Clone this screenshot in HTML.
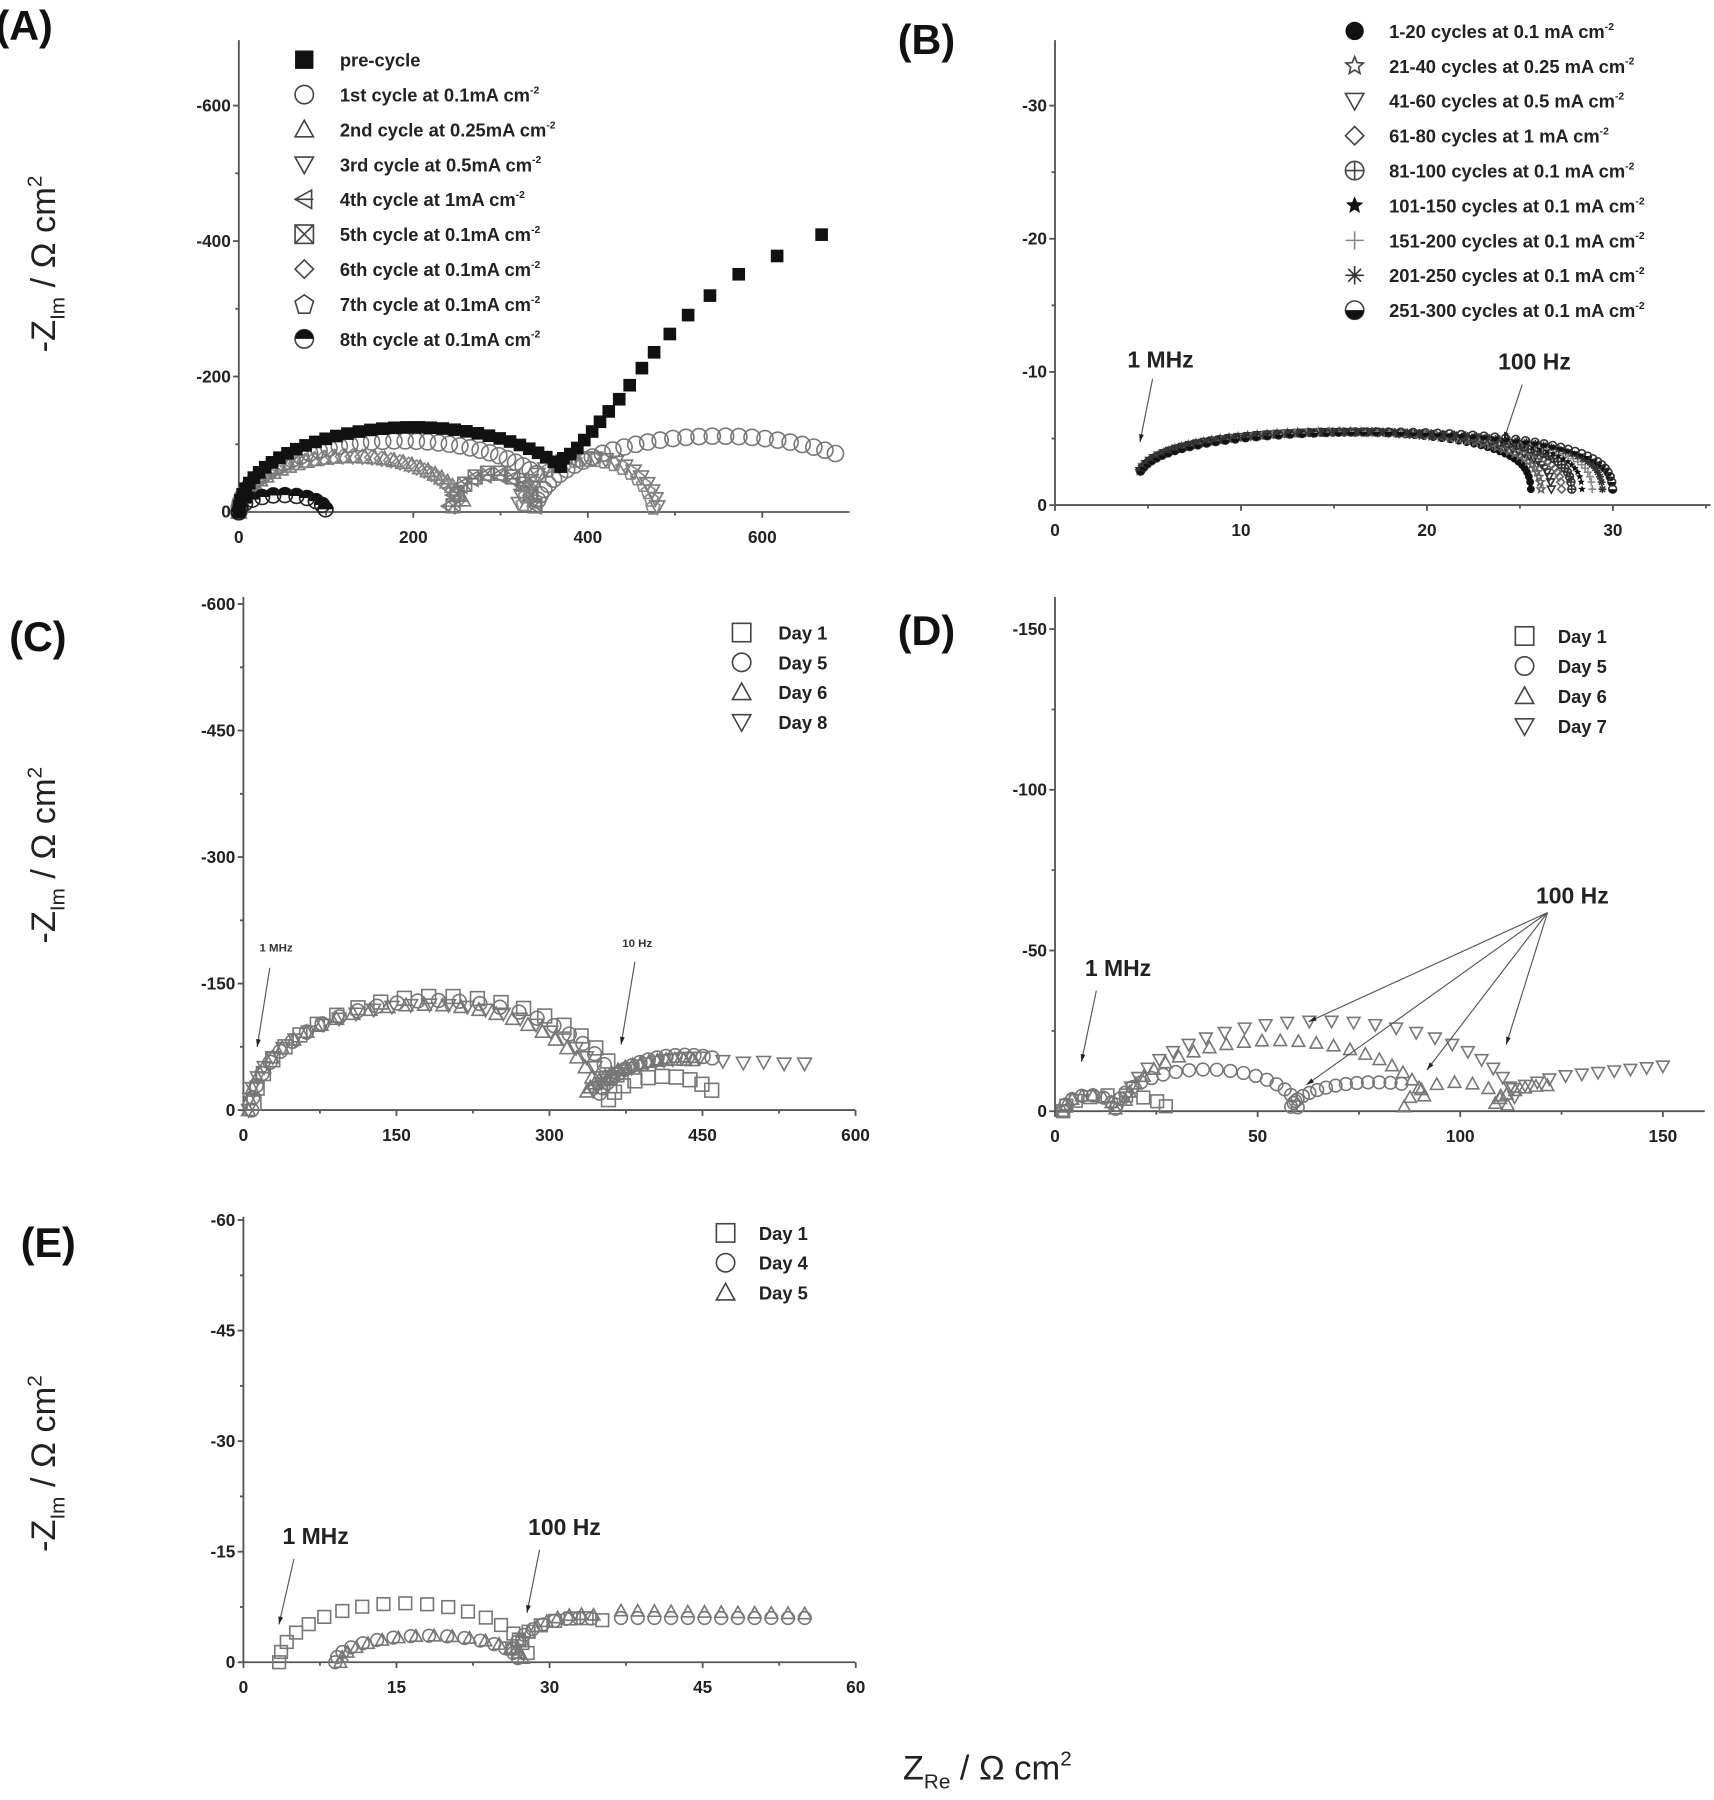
<!DOCTYPE html>
<html><head><meta charset="utf-8"><style>
html,body{margin:0;padding:0;background:#fff}
svg{display:block}
text{font-family:"Liberation Sans",sans-serif}
.t{font-size:15px;font-weight:bold;fill:#222}
.lg{font-size:16px;font-weight:bold;fill:#222}
.pl{font-size:36px;font-weight:bold;fill:#111}
.an{font-size:20px;font-weight:bold;fill:#222}
.yl{font-size:30px;fill:#222}
</style></head><body>
<svg id="s" width="1714" height="1800" viewBox="0 0 1493 1568" xmlns="http://www.w3.org/2000/svg"></svg>
<script>
var S=document.getElementById('s'),H='';
function mk(type,x,y,r,c){c=c||'#444';var s='stroke="'+c+'" stroke-width="1.4" fill="none"';
switch(type){
case 'sqf':return '<rect x="'+(x-r)+'" y="'+(y-r)+'" width="'+2*r+'" height="'+2*r+'" fill="#111"/>';
case 'sq':return '<rect x="'+(x-r)+'" y="'+(y-r)+'" width="'+2*r+'" height="'+2*r+'" '+s+'/>';
case 'ci':return '<circle cx="'+x+'" cy="'+y+'" r="'+r+'" '+s+'/>';
case 'cif':return '<circle cx="'+x+'" cy="'+y+'" r="'+r+'" fill="#111"/>';
case 'tu':return '<polygon points="'+x+','+(y-r)+' '+(x+r)+','+(y+r*0.8)+' '+(x-r)+','+(y+r*0.8)+'" '+s+'/>';
case 'td':return '<polygon points="'+x+','+(y+r)+' '+(x+r)+','+(y-r*0.8)+' '+(x-r)+','+(y-r*0.8)+'" '+s+'/>';
case 'di':return '<polygon points="'+x+','+(y-r)+' '+(x+r)+','+y+' '+x+','+(y+r)+' '+(x-r)+','+y+'" '+s+'/>';
case 'tl':return '<polygon points="'+(x-r)+','+y+' '+(x+r*0.8)+','+(y-r)+' '+(x+r*0.8)+','+(y+r)+'" '+s+'/><line x1="'+(x-r)+'" y1="'+y+'" x2="'+(x+r)+'" y2="'+y+'" '+s+'/>';
case 'xx':return '<rect x="'+(x-r)+'" y="'+(y-r)+'" width="'+2*r+'" height="'+2*r+'" '+s+'/><path d="M'+(x-r)+' '+(y-r)+'L'+(x+r)+' '+(y+r)+'M'+(x+r)+' '+(y-r)+'L'+(x-r)+' '+(y+r)+'" '+s+'/>';
case 'hf':return '<circle cx="'+x+'" cy="'+y+'" r="'+r+'" '+s+'/><path d="M'+(x-r)+' '+y+'A'+r+' '+r+' 0 0 1 '+(x+r)+' '+y+'Z" fill="#111"/>';
case 'pe':return '<polygon points="'+x+','+(y-r)+' '+(x+r)+','+(y-r*0.3)+' '+(x+r*0.6)+','+(y+r)+' '+(x-r*0.6)+','+(y+r)+' '+(x-r)+','+(y-r*0.3)+'" '+s+'/>';
case 'cp':return '<circle cx="'+x+'" cy="'+y+'" r="'+r+'" '+s+'/><path d="M'+(x-r)+' '+y+'H'+(x+r)+'M'+x+' '+(y-r)+'V'+(y+r)+'" '+s+'/>';
case 'stf':case 'st':var p=[];for(var i=0;i<10;i++){var a=-Math.PI/2+i*Math.PI/5,rr=i%2?r*0.45:r;p.push((x+rr*Math.cos(a)).toFixed(1)+','+(y+rr*Math.sin(a)).toFixed(1));}
 return type=='stf'?'<polygon points="'+p.join(' ')+'" fill="#111"/>':'<polygon points="'+p.join(' ')+'" '+s+'/>';
case 'pl':return '<path d="M'+(x-r)+' '+y+'H'+(x+r)+'M'+x+' '+(y-r)+'V'+(y+r)+'" stroke="#888" stroke-width="1.4"/>';
case 'as':return '<path d="M'+(x-r)+' '+y+'H'+(x+r)+'M'+x+' '+(y-r)+'V'+(y+r)+'M'+(x-r*.7)+' '+(y-r*.7)+'L'+(x+r*.7)+' '+(y+r*.7)+'M'+(x+r*.7)+' '+(y-r*.7)+'L'+(x-r*.7)+' '+(y+r*.7)+'" stroke="#333" stroke-width="1.4"/>';
case 'bo':return '<circle cx="'+x+'" cy="'+y+'" r="'+r+'" '+s+'/><path d="M'+(x-r)+' '+y+'A'+r+' '+r+' 0 0 0 '+(x+r)+' '+y+'Z" fill="#111"/>';
}}
function axis(P){
 var o='<g stroke="#555" stroke-width="1.6"><line x1="'+P.x0+'" y1="'+P.top+'" x2="'+P.x0+'" y2="'+(P.y0+1)+'"/><line x1="'+P.x0+'" y1="'+P.y0+'" x2="'+P.right+'" y2="'+P.y0+'"/>';
 P.xt.forEach(function(v){var X=P.x0+v*P.sx;o+='<line x1="'+X+'" y1="'+P.y0+'" x2="'+X+'" y2="'+(P.y0+5)+'"/>';var X2=X+P.xs*P.sx/2;if(X2<P.right)o+='<line x1="'+X2+'" y1="'+P.y0+'" x2="'+X2+'" y2="'+(P.y0+3)+'"/>';});
 P.yt.forEach(function(v){var Y=P.y0-v*P.sy;o+='<line x1="'+P.x0+'" y1="'+Y+'" x2="'+(P.x0-5)+'" y2="'+Y+'"/>';var Y2=Y-P.ys*P.sy/2;if(Y2>P.top)o+='<line x1="'+P.x0+'" y1="'+Y2+'" x2="'+(P.x0-3)+'" y2="'+Y2+'"/>';});
 o+='</g>';
 P.xt.forEach(function(v){o+='<text class="t" x="'+(P.x0+v*P.sx)+'" y="'+(P.y0+27)+'" text-anchor="middle">'+v+'</text>';});
 P.yt.forEach(function(v){o+='<text class="t" x="'+(P.x0-7)+'" y="'+(P.y0-v*P.sy+5)+'" text-anchor="end">'+(v?'-'+v:'0')+'</text>';});
 H+=o;
}
function arc(a,b,h,n,t0,t1,p){t0=t0||0;t1=t1==null?1:t1;p=p||1;var r=[];for(var i=0;i<n;i++){var t=t0+(t1-t0)*i/(n-1);var th=Math.PI*(1-t);var c=Math.cos(th),s=Math.sin(th);r.push([(a+b)/2+(b-a)/2*c,h*Math.pow(s,p)]);}return r;}
function plot(P,pts,type,r,c){pts.forEach(function(q){H+=mk(type,P.x0+q[0]*P.sx,P.y0-q[1]*P.sy,r,c);});}
function seg(a,b,n){var r=[];for(var i=0;i<n;i++){var t=i/(n-1);r.push([a[0]+(b[0]-a[0])*t,a[1]+(b[1]-a[1])*t]);}return r;}
function arrow(x1,y1,x2,y2){var a=Math.atan2(y2-y1,x2-x1),L=7;H+='<line x1="'+x1+'" y1="'+y1+'" x2="'+x2+'" y2="'+y2+'" stroke="#555" stroke-width="1"/><polygon points="'+x2+','+y2+' '+(x2-L*Math.cos(a-0.3))+','+(y2-L*Math.sin(a-0.3))+' '+(x2-L*Math.cos(a+0.3))+','+(y2-L*Math.sin(a+0.3))+'" fill="#222"/>';}
function legend(x,tx,ys,items,r){items.forEach(function(it,i){H+=mk(it[0],x,ys[0]+i*ys[1],r,it[2]||'#444');H+='<text class="lg" x="'+tx+'" y="'+(ys[0]+i*ys[1]+6)+'">'+it[1]+'</text>';});}
var sup2='<tspan font-size="9" dy="-7">-2</tspan>';
// ---------- A ----------
var A={x0:208,y0:446,sx:0.76,sy:0.59,top:35,right:740,xt:[0,200,400,600],yt:[0,200,400,600],xs:200,ys:200};
axis(A);
plot(A,arc(0,260,82,34,0,0.93),'tu',6.5,'#777');
plot(A,arc(240,340,55,10,0.05,0.95),'tl',6.5,'#777');
plot(A,arc(320,480,80,20,0.05,0.97),'td',6.5,'#777');
plot(A,arc(0,255,82,34,0,0.93),'di',6.5,'#888');
plot(A,arc(245,340,58,10,0.05,0.95),'xx',6,'#777');
plot(A,arc(325,475,78,20,0.05,0.97),'pe',6,'#888');
plot(A,arc(0,370,105,38,0,0.82),'ci',7,'#777');
plot(A,arc(340,760,112,30,0.05,0.72),'ci',7,'#777');
plot(A,arc(0,100,25,12,0,0.95),'hf',6.5,'#222');
plot(A,arc(0,400,125,38,0,0.82),'sqf',5.5);
plot(A,[[372,88],[380,95],[388,105],[396,118],[405,132],[414,148],[424,165],[436,185],[448,208],[462,236],[476,262],[494,292],[515,323],[540,355],[573,390],[617,420],[668,455]].map(function(q){return [q[0],q[1]*0.9];}),'sqf',5.5);
legend(265,296,[52,30.4],[['sqf','pre-cycle'],['ci','1st cycle at 0.1mA cm'+sup2],['tu','2nd cycle at 0.25mA cm'+sup2],['td','3rd cycle at 0.5mA cm'+sup2],['tl','4th cycle at 1mA cm'+sup2],['xx','5th cycle at 0.1mA cm'+sup2],['di','6th cycle at 0.1mA cm'+sup2],['pe','7th cycle at 0.1mA cm'+sup2],['hf','8th cycle at 0.1mA cm'+sup2]],8);
H+='<text class="pl" x="-4" y="35">(A)</text>';
H+='<text class="yl" transform="translate(48,230) rotate(-90)" text-anchor="middle">-Z<tspan font-size="18" dy="8">Im</tspan><tspan dy="-8"> / Ω cm</tspan><tspan font-size="18" dy="-12">2</tspan></text>';
// ---------- B ----------
var B={x0:919,y0:440,sx:16.2,sy:11.6,top:35,right:1490,xt:[0,10,20,30],yt:[0,10,20,30],xs:10,ys:10};
axis(B);
var bt=['cif','st','td','di','cp','stf','pl','as','bo'];
for(var k=0;k<9;k++){var e=25.2+k*0.55;plot(B,arc(4.3,e+0.4,5.5,56,0.07,0.985,0.5),bt[k],3.4,k%2?'#666':'#333');}
legend(1180,1210,[27,30.4],[['cif','1-20 cycles at 0.1 mA cm'+sup2],['st','21-40 cycles at 0.25 mA cm'+sup2],['td','41-60 cycles at 0.5 mA cm'+sup2],['di','61-80 cycles at 1 mA cm'+sup2],['cp','81-100 cycles at 0.1 mA cm'+sup2],['stf','101-150 cycles at 0.1 mA cm'+sup2],['pl','151-200 cycles at 0.1 mA cm'+sup2],['as','201-250 cycles at 0.1 mA cm'+sup2],['bo','251-300 cycles at 0.1 mA cm'+sup2]],8);
H+='<text class="pl" x="782" y="47">(B)</text>';
H+='<text class="an" x="982" y="320">1 MHz</text>';arrow(1004,330,993,385);
H+='<text class="an" x="1305" y="322">100 Hz</text>';arrow(1326,335,1310,383);
// ---------- C ----------
var C={x0:212,y0:967,sx:0.8887,sy:0.7347,top:520,right:745,xt:[0,150,300,450,600],yt:[0,150,300,450,600],xs:150,ys:150};
axis(C);
plot(C,arc(5,350,125,28,0,0.9),'tu',6,'#777');
plot(C,arc(330,520,60,16,0.12,0.55),'tu',6,'#777');
plot(C,arc(5,360,125,28,0,0.9),'td',6,'#777');
plot(C,arc(335,560,62,16,0.12,0.5),'td',6,'#777');
plot(C,[[470,58],[490,56],[510,57],[530,55],[550,55]],'td',6,'#777');
plot(C,arc(8,370,130,26,0,0.9),'ci',6,'#777');
plot(C,arc(345,520,65,16,0.1,0.6),'ci',6,'#777');
plot(C,arc(10,375,135,22,0.02,0.9),'sq',6,'#777');
plot(C,arc(355,470,40,10,0.1,0.8),'sq',6,'#777');
legend(646,678,[551,26],[['sq','Day 1'],['ci','Day 5'],['tu','Day 6'],['td','Day 8']],8);
H+='<text class="pl" x="8" y="567">(C)</text>';
H+='<text class="yl" transform="translate(48,745) rotate(-90)" text-anchor="middle">-Z<tspan font-size="18" dy="8">Im</tspan><tspan dy="-8"> / Ω cm</tspan><tspan font-size="18" dy="-12">2</tspan></text>';
H+='<text x="226" y="829" font-size="10" font-weight="bold" fill="#333">1 MHz</text>';arrow(235,843,224,912);
H+='<text x="542" y="825" font-size="10" font-weight="bold" fill="#333">10 Hz</text>';arrow(553,838,541,910);
// ---------- D ----------
var D={x0:919,y0:968,sx:3.53,sy:2.8,top:520,right:1485,xt:[0,50,100,150],yt:[0,50,100,150],xs:50,ys:50};
axis(D);
plot(D,arc(2,28,5,9,0,0.9),'sq',5.5,'#777');
plot(D,arc(2,15,5,8,0,0.95),'ci',5.5,'#777');plot(D,arc(15,60,13,20,0.05,0.97),'ci',5.5,'#777');plot(D,arc(58,100,9,14,0.05,0.6),'ci',5.5,'#777');
plot(D,arc(2,15,5,8,0,0.95),'tu',5.5,'#777');plot(D,arc(17,92,22,24,0.05,0.93),'tu',5.5,'#777');plot(D,arc(86,112,9,9,0.05,0.93),'tu',5.5,'#777');plot(D,arc(108,135,8,7,0.1,0.5),'tu',5.5,'#777');
plot(D,arc(17,114,28,26,0.05,0.95),'td',5.5,'#777');plot(D,[[113,7],[116,8],[119,9],[122,10],[126,11],[130,11.5],[134,12],[138,12.5],[142,13],[146,13.5],[150,14]],'td',5.5,'#777');
legend(1328,1357,[554,26.2],[['sq','Day 1'],['ci','Day 5'],['tu','Day 6'],['td','Day 7']],8);
H+='<text class="pl" x="782" y="562">(D)</text>';
H+='<text class="an" x="945" y="850">1 MHz</text>';arrow(955,863,942,925);
H+='<text class="an" x="1338" y="787">100 Hz</text>';
arrow(1348,795,1138,945);arrow(1348,795,1243,932);arrow(1348,795,1312,910);arrow(1348,795,1140,890);
// ---------- E ----------
var E={x0:212,y0:1448,sx:8.89,sy:6.42,top:1060,right:745,xt:[0,15,30,45,60],yt:[0,15,30,45,60],xs:15,ys:15};
axis(E);
plot(E,arc(3.5,28,8,18,0,0.95),'sq',5.5,'#777');plot(E,arc(26,40,6,8,0.1,0.6),'sq',5.5,'#777');
plot(E,arc(9,27,3.6,16,0,0.95),'ci',5.5,'#777');plot(E,arc(26,40,6,9,0.1,0.55),'ci',5.5,'#777');plot(E,seg([37,6],[55,6],12),'ci',5.5,'#777');
plot(E,arc(9.5,27.5,3.6,16,0,0.95),'tu',5.5,'#777');plot(E,arc(26.5,40,6.5,9,0.1,0.55),'tu',5.5,'#777');plot(E,seg([37,7],[55,6.6],12),'tu',5.5,'#777');
legend(632,661,[1074,26],[['sq','Day 1'],['ci','Day 4'],['tu','Day 5']],8);
H+='<text class="pl" x="18" y="1095">(E)</text>';
H+='<text class="yl" transform="translate(48,1275) rotate(-90)" text-anchor="middle">-Z<tspan font-size="18" dy="8">Im</tspan><tspan dy="-8"> / Ω cm</tspan><tspan font-size="18" dy="-12">2</tspan></text>';
H+='<text class="an" x="246" y="1345" font-size="17">1 MHz</text>';arrow(256,1358,243,1415);
H+='<text class="an" x="460" y="1337" font-size="17">100 Hz</text>';arrow(470,1350,459,1405);
H+='<text class="yl" x="860" y="1550" text-anchor="middle">Z<tspan font-size="18" dy="8">Re</tspan><tspan dy="-8"> / Ω cm</tspan><tspan font-size="18" dy="-12">2</tspan></text>';
S.innerHTML=H;
</script>
</body></html>
